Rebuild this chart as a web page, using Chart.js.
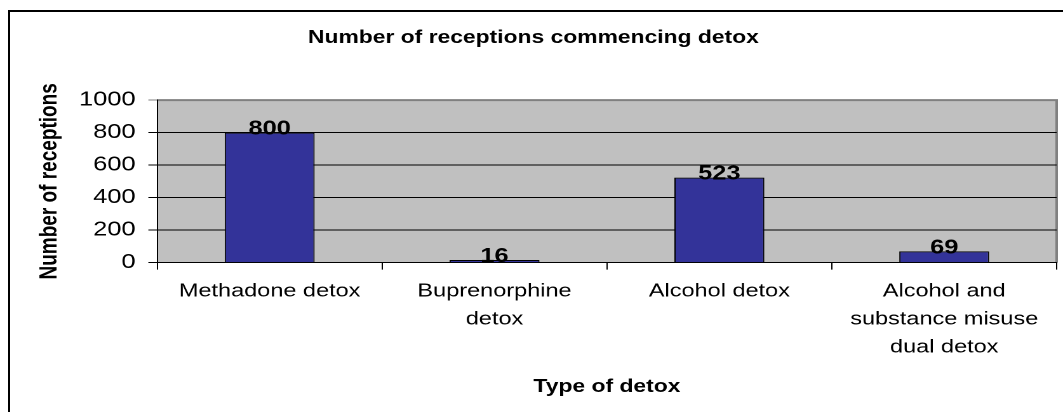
<!DOCTYPE html>
<html>
<head>
<meta charset="utf-8">
<script src="https://cdn.jsdelivr.net/npm/chart.js@4/dist/chart.umd.min.js"></script>
<style>
  body { margin: 0; background: #fff; overflow: hidden; width: 1063px; height: 412px; position: relative; }
  #frame { position: absolute; left: 8px; top: 10px; width: 1200px; height: 600px;
           border-left: 2px solid #000; border-top: 2px solid #000; }
  #wrap { position: absolute; left: 0; top: 0; width: 837px; height: 412px;
          transform: scaleX(1.27); transform-origin: 0 0; }
  #detoxChart { width: 837px; height: 412px; display: block; }
</style>
</head>
<body>
<div id="frame"></div>
<div id="wrap"><canvas id="detoxChart" width="837" height="412"></canvas></div>
<script>
// Chart data
const categories = [
  ['Methadone detox'],
  ['Buprenorphine', 'detox'],
  ['Alcohol detox'],
  ['Alcohol and', 'substance misuse', 'dual detox']
];
const receptions = [800, 16, 523, 69];
const yMax = 1000;
const yStep = 200;

const FONT = '"Liberation Sans", Arial, sans-serif';

// grey plot area with the grey frame on top/right
const plotBackground = {
  id: 'plotBackground',
  beforeDraw(chart) {
    const { ctx, chartArea: a } = chart;
    ctx.save();
    ctx.fillStyle = '#C0C0C0';
    ctx.fillRect(a.left, a.top, a.right - a.left, a.bottom - a.top);
    ctx.strokeStyle = '#808080';
    ctx.lineWidth = 2;
    ctx.beginPath();
    ctx.moveTo(a.left, a.top);
    ctx.lineTo(a.right, a.top);
    ctx.lineTo(a.right, a.bottom);
    ctx.stroke();
    ctx.restore();
  }
};

// value labels sitting on top of each bar
const valueLabels = {
  id: 'valueLabels',
  afterDatasetsDraw(chart) {
    const { ctx } = chart;
    const meta = chart.getDatasetMeta(0);
    ctx.save();
    ctx.font = 'bold 20px ' + FONT;
    ctx.fillStyle = '#000';
    ctx.textAlign = 'center';
    ctx.textBaseline = 'alphabetic';
    meta.data.forEach((bar, i) => {
      ctx.fillText(String(receptions[i]), bar.x, bar.y + 2);
    });
    ctx.restore();
  }
};

function renderDetoxChart() {
  const ctx = document.getElementById('detoxChart').getContext('2d');
  return new Chart(ctx, {
    type: 'bar',
    data: {
      labels: categories,
      datasets: [{
        data: receptions,
        backgroundColor: '#333399',
        borderColor: '#000',
        borderWidth: 1,
        categoryPercentage: 1,
        barPercentage: 0.4
      }]
    },
    options: {
      responsive: false,
      animation: false,
      devicePixelRatio: 2,
      layout: { padding: { left: 8, right: 5, top: 0, bottom: 0 } },
      plugins: {
        legend: { display: false },
        tooltip: { enabled: false },
        title: {
          display: true,
          text: 'Number of receptions commencing detox',
          color: '#000',
          font: { family: FONT, size: 18, weight: 'bold' },
          padding: { top: 27, bottom: 51.5 }
        }
      },
      scales: {
        x: {
          offset: true,
          grid: { offset: true, drawOnChartArea: false, drawTicks: true, tickLength: 7, color: '#000' },
          border: { color: '#000', width: 1 },
          ticks: {
            color: '#000',
            padding: 8,
            maxRotation: 0,
            autoSkip: false,
            font: { family: FONT, size: 18.5, lineHeight: 1.51 }
          },
          title: {
            display: true,
            text: 'Type of detox',
            color: '#000',
            font: { family: FONT, size: 18, weight: 'bold' },
            padding: { top: 7, bottom: 14 }
          }
        },
        y: {
          min: 0,
          max: yMax,
          grid: {
            color: c => (c.tick && c.tick.value === yMax) ? '#808080' : '#000',
            tickLength: 7,
            lineWidth: 1
          },
          border: { color: '#000', width: 1 },
          ticks: {
            stepSize: yStep,
            color: '#000',
            padding: 10,
            font: { family: FONT, size: 20 },
            callback: v => String(v)
          },
          title: {
            display: true,
            text: 'Number of receptions',
            color: '#000',
            font: { family: FONT, size: 19, weight: 'bold' },
            padding: { top: 20, bottom: 1.5 }
          }
        }
      }
    },
    plugins: [plotBackground, valueLabels]
  });
}

renderDetoxChart();
</script>
</body>
</html>
